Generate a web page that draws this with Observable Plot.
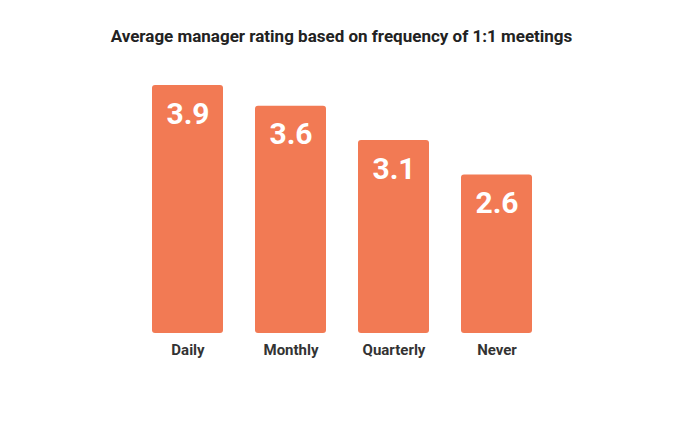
<!DOCTYPE html>
<html>
<head>
<meta charset="utf-8">
<script src="https://cdn.jsdelivr.net/npm/d3@7"></script>
<script src="https://cdn.jsdelivr.net/npm/@observablehq/plot@0.6"></script>
<style>
  html, body { margin: 0; padding: 0; background: #fff; }
  #wrap { width: 683px; height: 427px; overflow: hidden; font-family: Roboto, "Noto Sans", sans-serif; }
  #title { box-sizing: border-box; height: 60px; padding-top: 26px; margin: 0; text-align: center;
           font: 700 17px/20px Roboto, sans-serif; color: #222; }
</style>
</head>
<body>
<div id="wrap">
  <div id="title">Average manager rating based on frequency of 1:1 meetings</div>
  <div id="chart"></div>
</div>
<script>
const categories = ["Daily", "Monthly", "Quarterly", "Never"];
const ratings = [3.9, 3.6, 3.1, 2.6];
const valueLabels = ["3.9", "3.6", "3.1", "2.6"];

const data = categories.map((c, i) => ({category: c, rating: ratings[i], label: valueLabels[i]}));
const barColor = "#f27a54";

const chart = Plot.plot({
  width: 683,
  height: 367,
  marginLeft: 120,
  marginRight: 118,
  marginTop: 25,
  marginBottom: 94,
  style: {fontFamily: "Roboto, sans-serif", background: "transparent"},
  x: {domain: categories, padding: 0.31, label: null},
  y: {domain: [0.3, 3.9], clamp: true, axis: null},
  marks: [
    Plot.barY(data, {x: "category", y: "rating", fill: barColor, rx: 3}),
    Plot.text(data, {x: "category", y: "rating", text: "label", lineAnchor: "top", dy: 17,
                     fill: "white", fontSize: 30, fontWeight: "bold"}),
    Plot.axisX({tickSize: 0, tickPadding: 11, fontSize: 15, fontWeight: "bold", color: "#333", label: null})
  ]
});
document.getElementById("chart").appendChild(chart);
</script>
</body>
</html>
